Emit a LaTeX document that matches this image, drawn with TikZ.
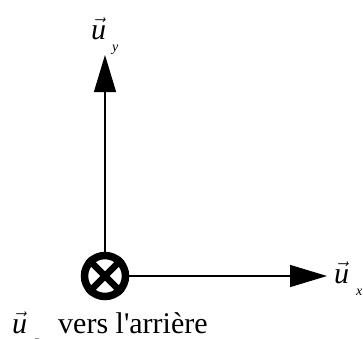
\documentclass[tikz,border=0pt]{standalone}
\usepackage{fontspec}
\setmainfont{Liberation Serif}
\usetikzlibrary{arrows.meta}
\newcommand{\vu}{\ensuremath{\vec{\textit{u}}}}
\newcommand{\sub}[1]{\raisebox{-12pt}{\fontsize{14}{14}\selectfont\itshape #1}}
\begin{document}
\begin{tikzpicture}[x=1pt,y=-1pt]
\useasboundingbox (0,0) rectangle (363,338);
\tikzset{
  axis/.style={line width=1.3pt,-{Triangle[length=37pt,width=22pt]}},
  lbl/.style={inner sep=0pt,font=\fontsize{30}{34}\selectfont},
}
\node[circle,draw,line width=7.5pt,minimum size=41pt,inner sep=0pt] (o) at (105,276) {};
\draw[line width=6.5pt] (o.45) -- (o.225);
\draw[line width=6.5pt] (o.135) -- (o.315);
\coordinate (ty) at (105,55);
\coordinate (tx) at (327,276);
\draw[axis] (o) -- (ty);
\draw[axis] (o) -- (tx);
\node[lbl,anchor=base west] (ly) at (91,39) {\vu\hspace{6pt}\sub{y}};
\node[lbl,anchor=base west] (lx) at (334,283) {\vu\hspace{7pt}\sub{x}};
\node[lbl,anchor=base west] (lz) at (12,333) {\vu\hspace{7pt}\sub{z}};
\node[lbl,anchor=base west] (lt) at (58,333) {vers l\textquotesingle arrière};
\end{tikzpicture}
\end{document}
